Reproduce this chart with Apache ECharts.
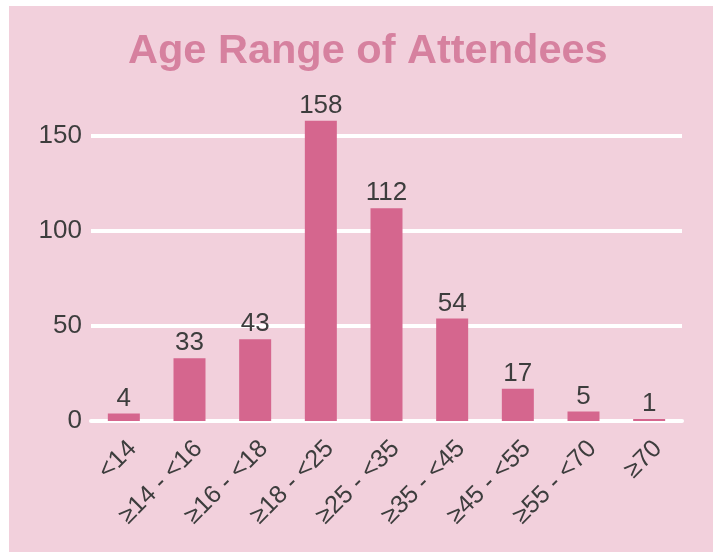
<!DOCTYPE html>
<html>
<head>
<meta charset="utf-8">
<script src="https://cdn.jsdelivr.net/npm/echarts@6/dist/echarts.min.js"></script>
<style>
    html, body { margin: 0; padding: 0; background: #fff; }
    #chart { position: absolute; left: 9px; top: 6px; width: 704px; height: 546px; }
</style>
</head>
<body>
<div id="chart"></div>
<script>
// 年龄段
const ageRanges = ['<14', '≥14 - <16', '≥16 - <18', '≥18 - <25', '≥25 - <35', '≥35 - <45', '≥45 - <55', '≥55 - <70', '≥70'];
// 人数
const attendees = [4, 33, 43, 158, 112, 54, 17, 5, 1];
const yTicks = [0, 50, 100, 150];

const myChart = echarts.init(document.getElementById('chart'));
myChart.setOption({
    backgroundColor: '#f2d0dc',
    animation: false,
    title: {
        text: 'Age Range of Attendees',
        left: 119,
        top: 25,
        padding: 0,
        textStyle: {
            color: '#d6819f',
            fontSize: 41.5,
            fontWeight: 'bold',
            fontFamily: 'Liberation Sans, Arial, sans-serif'
        }
    },
    grid: { left: 82, right: 31, top: 130, bottom: 131, containLabel: false },
    xAxis: {
        type: 'category',
        data: ageRanges,
        axisLine: { show: true, lineStyle: { color: '#fff', width: 4 } },
        axisTick: { show: false },
        axisLabel: {
            rotate: 45,
            margin: 15,
            verticalAlign: 'top',
            color: '#3d3d3d',
            fontSize: 25,
            fontFamily: 'Liberation Sans, Arial, sans-serif',
            interval: 0
        }
    },
    yAxis: {
        type: 'value',
        min: yTicks[0],
        max: yTicks[yTicks.length - 1],
        interval: 50,
        axisLine: { show: false },
        axisTick: { show: false },
        axisLabel: {
            margin: 9,
            color: '#3d3d3d',
            fontSize: 26,
            fontFamily: 'Liberation Sans, Arial, sans-serif'
        },
        splitLine: { lineStyle: { color: '#fff', width: 4 } }
    },
    series: [
        {
            type: 'bar',
            data: attendees,
            barWidth: 32,
            clip: false,
            itemStyle: { color: '#d5668e' },
            label: {
                show: true,
                position: 'top',
                distance: 2,
                color: '#3d3d3d',
                fontSize: 26,
                fontFamily: 'Liberation Sans, Arial, sans-serif'
            }
        }
    ]
});
</script>
</body>
</html>
